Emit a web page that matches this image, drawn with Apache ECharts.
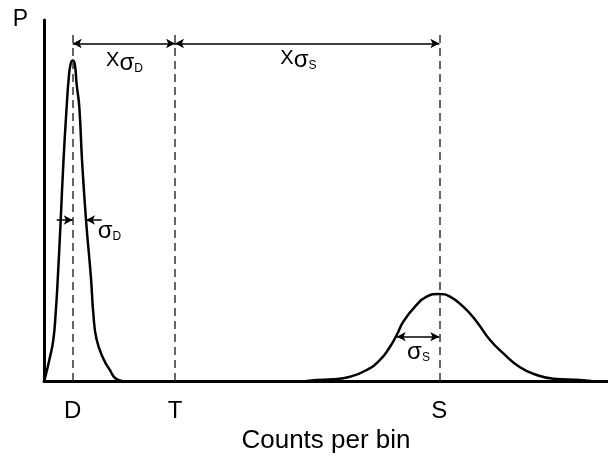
<!DOCTYPE html>
<html><head><meta charset="utf-8">
<script src="https://cdn.jsdelivr.net/npm/echarts@6/dist/echarts.min.js"></script>
<style>html,body{margin:0;padding:0;background:#fff}#c{width:608px;height:464px}</style>
</head><body><div id="c"></div>
<script>
// x ticks (category-like positions on the counts axis)
const tickValues = [5.09, 23.23, 70.1];
const tickLabels = ['D', 'T', 'S'];

// Dark (D) distribution
const dX = [0, 0.18, 0.94, 1.65, 2.07, 2.43, 2.96, 3.46, 4.02, 4.40, 4.75, 5.09, 5.45, 5.80, 6.26, 6.74, 7.45, 8.33, 8.74, 9.34, 10.64, 11.70, 12.59, 13.83];
const dY = [0, 0.83, 5.8, 11.4, 18.8, 28.0, 44.6, 61.2, 75.9, 84.2, 88.0, 88.8, 87.8, 82.0, 75.9, 61.2, 44.6, 28.5, 18.8, 11.4, 5.8, 3.0, 0.83, 0];

// Signal (S) distribution
const sX = [46.5, 48.35, 51.29, 54.26, 57.22, 59.57, 61.35, 62.54, 63.71, 65.78, 67.85, 70.09, 71.99, 74.34, 76.72, 79.08, 81.44, 84.40, 87.36, 90.30, 95.04, 97];
const sY = [0, 0.28, 0.47, 1.19, 3.05, 5.82, 9.50, 12.74, 16.43, 20.58, 23.35, 24.10, 23.35, 20.58, 16.43, 11.36, 7.67, 3.80, 1.66, 0.64, 0.28, 0];

// guide lines and arrows
const guideTop = 96.5;
const spanY = 93.5;
const sigmaDY = 44.6;
const sigmaDArrows = [[2.25, 5.09], [10.23, 7.45]]; // [from, to(head)]
const sigmaSArrow = [62.54, 70.09];
const sigmaSY = 12.27;

// annotations
const annText = ['{x|X}{s|σ}{sub|D}', '{x|X}{s|σ}{sub|S}', '{s|σ}{sub|D}', '{s|σ}{sub|S}'];
const annX = [14.27, 45.1, 11.6, 66.4];
const annY = [88.4, 89.2, 41.8, 8.3];

const FONT = 'Liberation Sans, Arial, sans-serif';
const chart = echarts.init(document.getElementById('c'), null, {renderer: 'canvas'});

const dashLine = {color: '#333', width: 1.5, type: [8, 5]};
const arrowLine = {color: '#000', width: 1.5, type: 'solid'};
const guides = tickValues.map(v => [
  {coord: [v, 0], symbol: 'none', lineStyle: dashLine},
  {coord: [v, guideTop], symbol: 'none'}
]);
const spans = [
  [{coord: [tickValues[0], spanY], symbol: 'arrow', lineStyle: arrowLine}, {coord: [tickValues[1], spanY], symbol: 'arrow'}],
  [{coord: [tickValues[1], spanY], symbol: 'arrow', lineStyle: arrowLine}, {coord: [tickValues[2], spanY], symbol: 'arrow'}],
  [{coord: [sigmaSArrow[0], sigmaSY], symbol: 'arrow', lineStyle: arrowLine}, {coord: [sigmaSArrow[1], sigmaSY], symbol: 'arrow'}]
].concat(sigmaDArrows.map(a => [
  {coord: [a[0], sigmaDY], symbol: 'none', lineStyle: arrowLine},
  {coord: [a[1], sigmaDY], symbol: 'arrow'}
]));

const rich = {
  x: {fontFamily: FONT, fontSize: 20, color: '#000', lineHeight: 22, verticalAlign: 'top'},
  s: {fontFamily: FONT, fontSize: 24, color: '#000', lineHeight: 22, verticalAlign: 'top'},
  sub: {fontFamily: FONT, fontSize: 12, color: '#000', lineHeight: 12, verticalAlign: 'top', padding: [12, 0, 0, 0]}
};

chart.setOption({
  animation: false,
  grid: {left: 44, right: 0, top: 20, bottom: 83},
  xAxis: {
    type: 'value', min: 0, max: 100,
    name: 'Counts per bin', nameLocation: 'middle', nameGap: 46,
    nameTextStyle: {fontFamily: FONT, fontSize: 26, color: '#000'},
    axisLine: {show: true, onZero: false, lineStyle: {color: '#000', width: 3}},
    axisTick: {show: false},
    splitLine: {show: false},
    axisLabel: {
      customValues: tickValues, margin: 18,
      fontFamily: FONT, fontSize: 24, color: '#000',
      formatter: v => { const i = tickValues.indexOf(v); return i >= 0 ? tickLabels[i] : ''; }
    }
  },
  yAxis: {
    type: 'value', min: 0, max: 100,
    name: 'P', nameLocation: 'end', nameGap: 0,
    nameTextStyle: {fontFamily: FONT, fontSize: 23, color: '#000', align: 'right', verticalAlign: 'middle', padding: [0, 16, 0, 0]},
    axisLine: {show: true, onZero: false, lineStyle: {color: '#000', width: 3}},
    axisTick: {show: false}, axisLabel: {show: false}, splitLine: {show: false}
  },
  series: [
    {
      type: 'line', data: dX.map((x, i) => [x, dY[i]]), showSymbol: false,
      smooth: 0.5,
      lineStyle: {color: '#000', width: 2.5}, z: 3
    },
    {
      type: 'line', data: sX.map((x, i) => [x, sY[i]]), showSymbol: false,
      smooth: 0.5,
      lineStyle: {color: '#000', width: 2.5}, z: 3,
      markLine: {
        silent: true, symbolSize: [7, 9], label: {show: false},
        emphasis: {disabled: true},
        data: guides.concat(spans)
      },
      markPoint: {
        silent: true, symbol: 'circle', symbolSize: 0,
        label: {show: true, position: 'inside', rich: rich},
        data: annText.map((t, i) => ({coord: [annX[i], annY[i]], value: 0, label: {formatter: t}}))
      }
    }
  ]
});
</script></body></html>
